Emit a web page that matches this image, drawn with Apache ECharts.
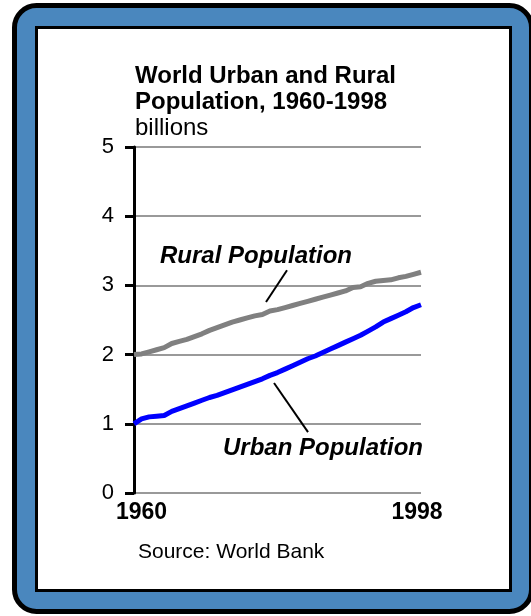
<!DOCTYPE html>
<html>
<head>
<meta charset="utf-8">
<script src="https://cdn.jsdelivr.net/npm/echarts@6/dist/echarts.min.js"></script>
<style>
  html, body { margin: 0; padding: 0; background: #ffffff; }
  #chart { width: 531px; height: 616px; }
</style>
</head>
<body>
<div id="chart"></div>
<script>
// World urban and rural population, billions, 1960-1998
const years = [
  1960, 1961, 1962, 1963, 1964, 1965, 1966, 1967, 1968, 1969,
  1970, 1971, 1972, 1973, 1974, 1975, 1976, 1977, 1978, 1979,
  1980, 1981, 1982, 1983, 1984, 1985, 1986, 1987, 1988, 1989,
  1990, 1991, 1992, 1993, 1994, 1995, 1996, 1997, 1998
];
const urban = [
  1.00, 1.07, 1.10, 1.11, 1.12, 1.18, 1.22, 1.26, 1.30, 1.34,
  1.38, 1.41, 1.45, 1.49, 1.53, 1.57, 1.61, 1.65, 1.70, 1.74,
  1.79, 1.84, 1.89, 1.94, 1.98, 2.03, 2.08, 2.13, 2.18, 2.23,
  2.28, 2.34, 2.40, 2.47, 2.52, 2.57, 2.62, 2.68, 2.72
];
const rural = [
  2.00, 2.01, 2.04, 2.07, 2.10, 2.16, 2.19, 2.22, 2.26, 2.30,
  2.35, 2.39, 2.43, 2.47, 2.50, 2.53, 2.56, 2.58, 2.63, 2.65,
  2.68, 2.71, 2.74, 2.77, 2.80, 2.83, 2.86, 2.89, 2.92, 2.97,
  2.98, 3.03, 3.06, 3.07, 3.08, 3.11, 3.13, 3.16, 3.19
];
const yTicks = [0, 1, 2, 3, 4, 5];
const xTickLabels = [1960, 1998];

// annotation text anchors and leader lines, in data coordinates [year, billions]
const ruralLabel = { text: 'Rural Population', at: [1963.44, 3.415] };
const urbanLabel = { text: 'Urban Population', at: [1971.78, 0.64] };
const ruralLeader = [[1980.26, 3.22], [1977.48, 2.76]];
const urbanLeader = [[1978.54, 1.59], [1983.04, 0.88]];

const FONT = '"Liberation Sans", Arial, Helvetica, sans-serif';

const pairs = (vals) => years.map((y, i) => [y, vals[i]]);

const chart = echarts.init(document.getElementById('chart'), null, { renderer: 'canvas' });

const option = {
  backgroundColor: '#ffffff',
  animation: false,
  textStyle: { fontFamily: FONT },
  title: {
    text: 'World Urban and Rural\nPopulation, 1960-1998',
    subtext: 'billions',
    left: 135,
    top: 63,
    padding: 0,
    itemGap: 0,
    textStyle: { fontFamily: FONT, fontSize: 24, fontWeight: 'bold', color: '#000', lineHeight: 26 },
    subtextStyle: { fontFamily: FONT, fontSize: 24, fontWeight: 'normal', color: '#000', lineHeight: 26 }
  },
  grid: { left: 134, right: 110, top: 147, bottom: 123, containLabel: false },
  xAxis: {
    type: 'value',
    min: years[0],
    max: years[years.length - 1],
    interval: 1,
    axisLine: { show: false },
    axisTick: { show: false },
    splitLine: { show: false },
    axisLabel: {
      margin: 8,
      showMinLabel: true,
      showMaxLabel: true,
      formatter: (v) => {
        if (v === xTickLabels[0]) return '{a|' + v + '}';
        if (v === xTickLabels[1]) return '{b|' + v + '}';
        return '';
      },
      rich: {
        a: { fontFamily: FONT, fontSize: 23, fontWeight: 'bold', color: '#000', padding: [0, 0, 0, 15] },
        b: { fontFamily: FONT, fontSize: 23, fontWeight: 'bold', color: '#000', padding: [0, 8, 0, 0] }
      }
    }
  },
  yAxis: {
    type: 'value',
    min: yTicks[0],
    max: yTicks[yTicks.length - 1],
    interval: 1,
    axisLine: { show: true, lineStyle: { color: '#000', width: 3 } },
    axisTick: { show: true, length: 9, lineStyle: { color: '#000', width: 3 } },
    axisLabel: { margin: 20, fontFamily: FONT, fontSize: 22, color: '#000' },
    splitLine: { show: true, lineStyle: { color: '#999999', width: 2 } }
  },
  series: [
    {
      name: 'Rural Population',
      type: 'line',
      data: pairs(rural),
      symbol: 'none',
      lineStyle: { color: '#808080', width: 5 },
      z: 3
    },
    {
      name: 'Urban Population',
      type: 'line',
      data: pairs(urban),
      symbol: 'none',
      lineStyle: { color: '#0000ff', width: 5 },
      z: 4
    }
  ]
};

chart.setOption(option);

// frame, source note and annotations placed from the chart's own scales
const px = (p) => chart.convertToPixel({ gridIndex: 0 }, p);

function annotation(lbl) {
  const p = px(lbl.at);
  return {
    type: 'text',
    x: p[0],
    y: p[1],
    z: 10,
    style: {
      text: lbl.text,
      font: 'italic bold 24px ' + FONT,
      fill: '#000',
      align: 'left',
      verticalAlign: 'middle'
    }
  };
}

function leader(seg) {
  const a = px(seg[0]), b = px(seg[1]);
  return {
    type: 'line',
    z: 10,
    shape: { x1: a[0], y1: a[1], x2: b[0], y2: b[1] },
    style: { stroke: '#000', lineWidth: 2 }
  };
}

chart.setOption({
  graphic: [
    {
      type: 'rect',
      z: -10,
      shape: { x: 14.5, y: 5.5, width: 517, height: 606, r: 22 },
      style: { fill: '#4a87be', stroke: '#000', lineWidth: 5 }
    },
    {
      type: 'rect',
      z: -9,
      shape: { x: 36.5, y: 27.5, width: 474, height: 563 },
      style: { fill: '#ffffff', stroke: '#000', lineWidth: 3 }
    },
    {
      type: 'text',
      x: 138,
      y: 552.7,
      z: 10,
      style: {
        text: 'Source: World Bank',
        font: '21px ' + FONT,
        fill: '#000',
        align: 'left',
        verticalAlign: 'middle'
      }
    },
    annotation(ruralLabel),
    annotation(urbanLabel),
    leader(ruralLeader),
    leader(urbanLeader)
  ]
});
</script>
</body>
</html>
